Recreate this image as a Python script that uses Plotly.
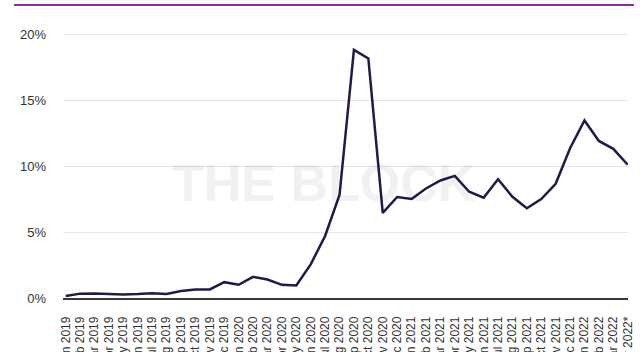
import plotly.graph_objects as go

months = ["Jan", "Feb", "Mar", "Apr", "May", "Jun", "Jul", "Aug", "Sep", "Oct", "Nov", "Dec"]
labels = [f"{m} {y}" for y in (2019, 2020, 2021) for m in months] + ["Jan 2022", "Feb 2022", "Mar 2022", "Apr 2022*"]

values = [0.15, 0.33, 0.34, 0.31, 0.27, 0.3, 0.36, 0.3, 0.53, 0.65,
          0.65, 1.2, 1.0, 1.6, 1.4, 1.0, 0.95, 2.55, 4.7, 7.8,
          18.8, 18.15, 6.45, 7.65, 7.5, 8.3, 8.9, 9.25, 8.05, 7.6,
          9.0, 7.67, 6.8, 7.5, 8.65, 11.35, 13.45, 11.9, 11.3, 10.1]

y_ticks = [0, 5, 10, 15, 20]
y_tick_text = ["0%", "5%", "10%", "15%", "20%"]

W, H = 640, 352
left, right, top, bottom = 63, 628, 20, 298

fig = go.Figure()
fig.add_trace(go.Scatter(
    x=list(range(len(labels))), y=values, mode="lines",
    line=dict(color="#1e1b4b", width=2.5), hoverinfo="skip"))

fig.update_layout(
    width=W, height=H,
    margin=dict(l=left, r=W - right, t=top, b=H - bottom, autoexpand=False),
    paper_bgcolor="white", plot_bgcolor="white",
    showlegend=False,
    font=dict(family="Liberation Sans, Arial, sans-serif", color="#333333"),
    xaxis=dict(
        tickmode="array", tickvals=list(range(len(labels))), ticktext=labels,
        tickangle=-90, range=[-0.19, 39.02], showgrid=False, zeroline=False,
        showline=True, linecolor="#3a3a3a", linewidth=1.5,
        ticks="", ticklabelstandoff=12, automargin=False,
        tickfont=dict(size=12, color="#333333")),
    yaxis=dict(
        tickmode="array", tickvals=y_ticks, ticktext=y_tick_text,
        range=[0, (bottom - top) / 13.2], showgrid=True, gridcolor="#e6e6e6",
        gridwidth=1, zeroline=False, showline=False, ticks="",
        ticklabelstandoff=16, automargin=False,
        tickfont=dict(size=13, color="#333333")),
    shapes=[dict(type="line", xref="paper", yref="paper",
                 x0=(14 - left) / (right - left), x1=(634 - left) / (right - left),
                 y0=(bottom - 5) / (bottom - top), y1=(bottom - 5) / (bottom - top),
                 line=dict(color="#8e2a9e", width=2))],
    annotations=[dict(text="<b>THE BLOCK</b>", xref="paper", yref="paper",
                      x=(324 - left) / (right - left), y=(bottom - 183) / (bottom - top),
                      showarrow=False, font=dict(size=52, color="#000000"),
                      opacity=0.05, xanchor="center", yanchor="middle")],
)

fig.write_html("out.html")
